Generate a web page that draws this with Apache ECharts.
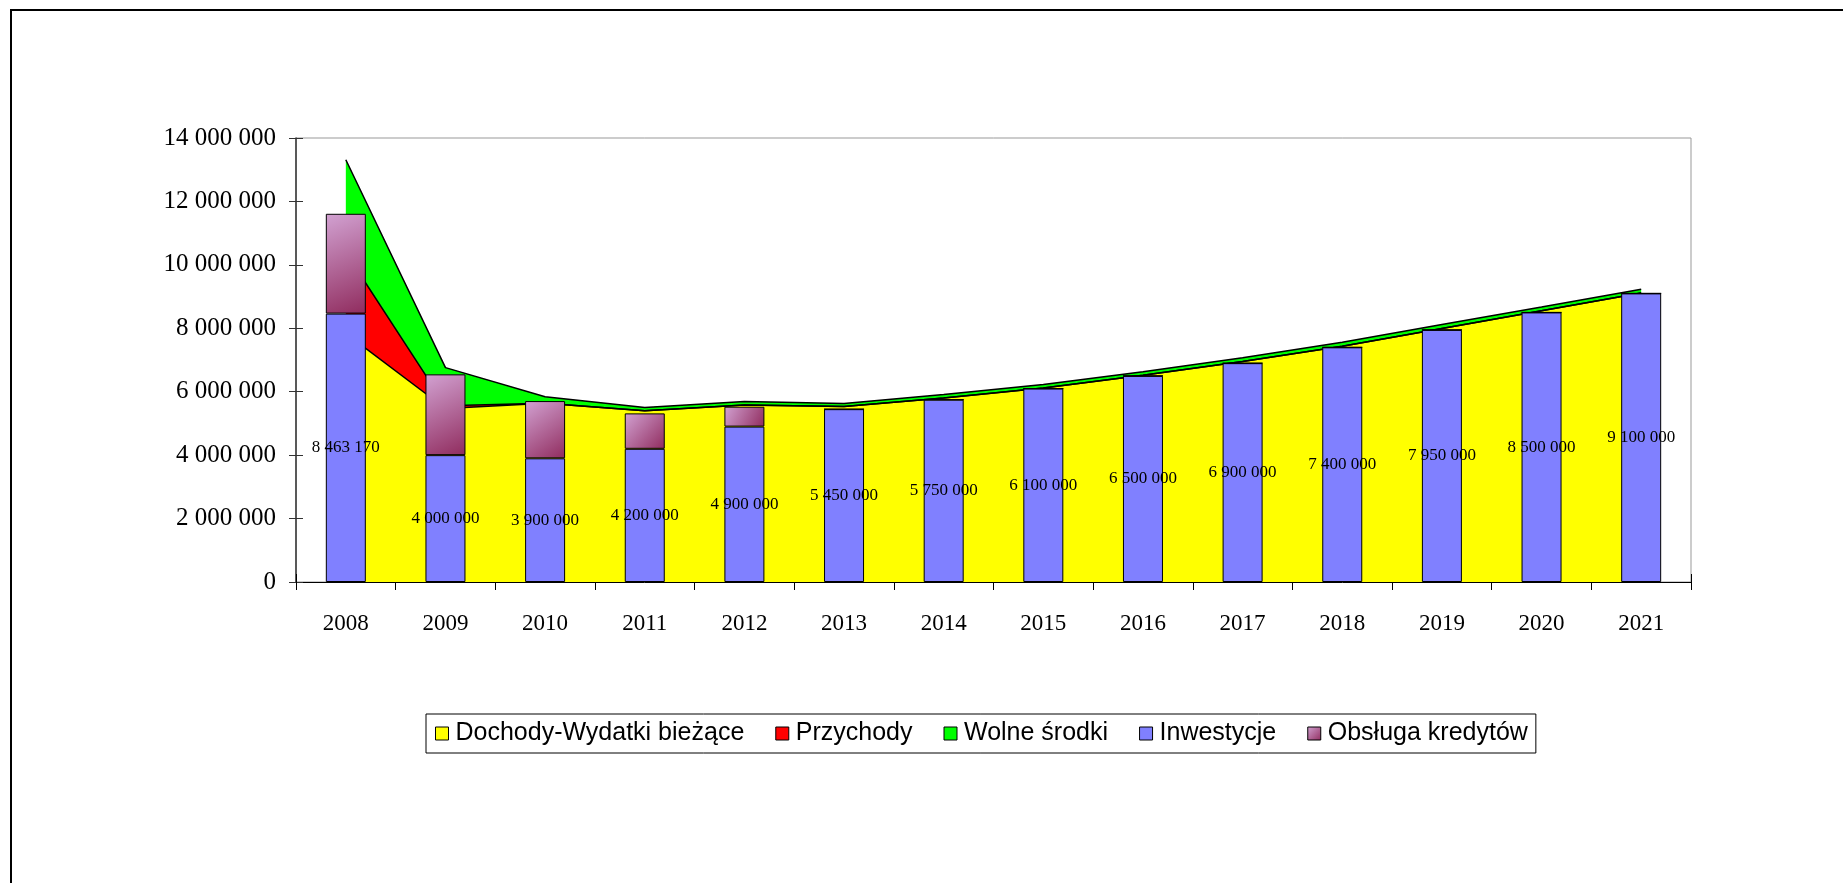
<!DOCTYPE html>
<html>
<head>
<meta charset="utf-8">
<title>Dochody, wydatki i inwestycje 2008-2021</title>
<script src="https://cdn.jsdelivr.net/npm/echarts@6/dist/echarts.min.js"></script>
<style>
  html, body { margin: 0; padding: 0; background: #fff; }
  #chart { width: 1843px; height: 883px; }
</style>
</head>
<body>
<div id="chart"></div>
<script>
// lata
var years = ['2008', '2009', '2010', '2011', '2012', '2013', '2014', '2015', '2016', '2017', '2018', '2019', '2020', '2021'];

// obszary (skumulowane)
var dochodyWydatki = [7840000, 5470000, 5635000, 5400000, 5580000, 5530000, 5800000, 6120000, 6520000, 6950000, 7430000, 7990000, 8550000, 9110000];
var przychody = [2550000, 90000, 0, 0, 0, 0, 0, 0, 0, 0, 0, 0, 0, 0];
var wolneSrodki = [2925000, 1200000, 205000, 100000, 110000, 100000, 110000, 110000, 110000, 120000, 130000, 130000, 120000, 120000];

// słupki (skumulowane)
var inwestycje = [8463170, 4000000, 3900000, 4200000, 4900000, 5450000, 5750000, 6100000, 6500000, 6900000, 7400000, 7950000, 8500000, 9100000];
var obslugaKredytow = [3147000, 2547000, 1805000, 1117000, 627000, 0, 0, 0, 0, 0, 0, 0, 0, 0];

var yTicks = { min: 0, max: 14000000, interval: 2000000 };

function fmt(v) {
  return String(v).replace(/\B(?=(\d{3})+(?!\d))/g, ' ');
}

var serif = '"Liberation Serif", "Times New Roman", serif';
var sans = '"Liberation Sans", Arial, sans-serif';

function areaSeries(name, data, color) {
  return {
    name: name,
    type: 'line',
    stack: 'obszar',
    z: 1,
    data: data,
    symbol: 'none',
    itemStyle: { color: color },
    lineStyle: { color: '#000', width: 1.5 },
    areaStyle: { color: color, opacity: 1 },
    emphasis: { disabled: true }
  };
}

var chart = echarts.init(document.getElementById('chart'));

chart.setOption({
  animation: false,
  backgroundColor: '#fff',
  graphic: [{
    type: 'rect',
    shape: { x: 11, y: 10, width: 2000, height: 1000 },
    style: { fill: 'none', stroke: '#000', lineWidth: 2 },
    silent: true
  }],
  grid: {
    left: 296, right: 152, top: 138, bottom: 301,
    show: true, borderColor: '#999', borderWidth: 1, backgroundColor: 'transparent'
  },
  legend: {
    left: 426, top: 714,
    icon: 'rect',
    itemWidth: 13, itemHeight: 13, itemGap: 31,
    padding: [7, 8, 7, 9],
    borderColor: '#000', borderWidth: 1,
    backgroundColor: '#fff',
    itemStyle: { borderColor: '#000', borderWidth: 1 },
    textStyle: { fontFamily: sans, fontSize: 25, color: '#000', padding: [0, 0, 0, 2] },
    data: ['Dochody-Wydatki bieżące', 'Przychody', 'Wolne środki', 'Inwestycje', 'Obsługa kredytów']
  },
  xAxis: [{
    type: 'category',
    data: years,
    axisLine: { lineStyle: { color: '#000', width: 1 } },
    axisTick: { show: true, length: 8, lineStyle: { color: '#000' } },
    axisLabel: { fontFamily: serif, fontSize: 23, color: '#000', margin: 30 },
    splitLine: { show: false }
  }, {
    type: 'category',
    data: years,
    position: 'bottom',
    axisLine: { show: false },
    axisTick: { show: true, inside: true, length: 8, lineStyle: { color: '#000' } },
    axisLabel: { show: false },
    splitLine: { show: false }
  }],
  yAxis: [{
    type: 'value',
    min: yTicks.min, max: yTicks.max, interval: yTicks.interval,
    axisLine: { show: true, lineStyle: { color: '#333', width: 1.5 } },
    axisTick: { show: true, length: 7, lineStyle: { color: '#333' } },
    axisLabel: { fontFamily: serif, fontSize: 25, color: '#000', margin: 20, formatter: fmt },
    splitLine: { show: false }
  }, {
    type: 'value',
    position: 'left',
    min: yTicks.min, max: yTicks.max, interval: yTicks.interval,
    axisLine: { show: false },
    axisTick: { show: true, inside: true, length: 7, lineStyle: { color: '#333' } },
    axisLabel: { show: false },
    splitLine: { show: false }
  }],
  series: [
    areaSeries('Dochody-Wydatki bieżące', dochodyWydatki, '#FFFF00'),
    areaSeries('Przychody', przychody, '#FF0000'),
    areaSeries('Wolne środki', wolneSrodki, '#00FF00'),
    {
      name: 'Inwestycje',
      type: 'bar',
      stack: 'slupki',
      z: 5,
      barWidth: 40,
      data: inwestycje,
      itemStyle: { color: '#8080FF', borderColor: '#000', borderWidth: 1 },
      label: {
        show: true, position: 'inside', formatter: function (p) { return fmt(p.value); },
        fontFamily: serif, fontSize: 17, color: '#000'
      },
      emphasis: { disabled: true }
    },
    {
      name: 'Obsługa kredytów',
      type: 'bar',
      stack: 'slupki',
      z: 5,
      barWidth: 40,
      data: obslugaKredytow,
      itemStyle: {
        color: new echarts.graphic.LinearGradient(0, 0, 1, 1, [
          { offset: 0, color: '#D2A2D2' },
          { offset: 1, color: '#902C5E' }
        ]),
        borderColor: '#000', borderWidth: 1
      },
      emphasis: { disabled: true }
    }
  ]
});
</script>
</body>
</html>
